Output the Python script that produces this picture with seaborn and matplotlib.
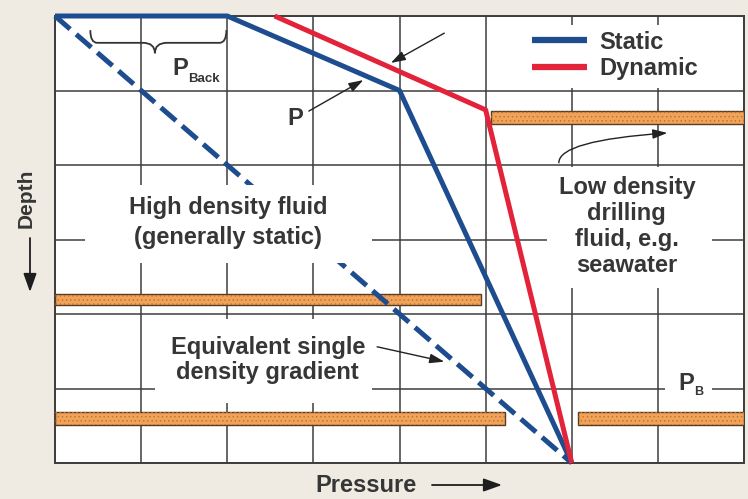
import numpy as np
import matplotlib
matplotlib.use('Agg')
import matplotlib.pyplot as plt
import seaborn as sns
from matplotlib.patches import Rectangle, PathPatch
from matplotlib.path import Path

# ---------------- data ----------------
static_pressure = [0.0, 2.0, 4.0, 6.0]
static_depth = [0.0, 0.0, 1.0, 6.0]
dynamic_pressure = [2.55, 5.0, 6.0]
dynamic_depth = [0.0, 1.26, 6.0]
equiv_pressure = [0.0, 6.0]
equiv_depth = [0.0, 6.0]

# formation layers (orange bands)
layer_depth = [3.80, 5.40, 5.40, 1.36]
layer_thick = [0.15, 0.18, 0.18, 0.18]
layer_start = [0.0, 0.0, 6.07, 5.06]
layer_end = [4.95, 5.23, 8.0, 8.0]

series_labels = ['Static', 'Dynamic']

# ---------------- style ----------------
BLUE = '#1d4c8f'
RED = '#e2233a'
GRID = '#3d3d3d'
TXT = '#363636'
BG = '#efebe2'
ORANGE = '#f2a35a'

sns.set_theme(style='white')
plt.rcParams['font.family'] = ['Liberation Sans', 'DejaVu Sans']
plt.rcParams['hatch.linewidth'] = 0.6

fig = plt.figure(figsize=(7.48, 4.99), dpi=100, facecolor=BG)
ax = fig.add_axes([55 / 748, 1 - 463 / 499, 689 / 748, 447 / 499])
ax.set_facecolor('white')

ax.set_xlim(0, 8)
ax.set_ylim(6, 0)
ax.set_xticks(range(9))
ax.set_yticks(range(7))
ax.tick_params(length=0, labelbottom=False, labelleft=False)
ax.set_axisbelow(True)
ax.grid(True, color=GRID, linewidth=1.1)
for s in ax.spines.values():
    s.set_color(GRID)
    s.set_linewidth(1.4)

# formation layers
widths = np.subtract(layer_end, layer_start)
ax.barh(y=layer_depth, width=widths, left=layer_start, height=layer_thick,
        color=ORANGE, edgecolor='#5a3c22', linewidth=1.0, zorder=3)
ax.barh(y=layer_depth, width=widths, left=layer_start, height=layer_thick,
        facecolor='none', edgecolor='#c0762f', hatch='....', linewidth=0, zorder=3.1)

# lines
sns.lineplot(x=equiv_pressure, y=equiv_depth, sort=False, estimator=None,
             color=BLUE, linewidth=3.6, linestyle=(0, (4, 1.6)), ax=ax,
             label='_nolegend_')
sns.lineplot(x=static_pressure, y=static_depth, sort=False, estimator=None,
             color=BLUE, linewidth=3.6, ax=ax, label=series_labels[0])
sns.lineplot(x=dynamic_pressure, y=dynamic_depth, sort=False, estimator=None,
             color=RED, linewidth=3.6, ax=ax, label=series_labels[1])
for ln in ax.lines:
    ln.set_clip_on(False)
    ln.set_zorder(4)
    ln.set_solid_capstyle('butt')
line_static, line_dynamic = ax.lines[1], ax.lines[2]

# white label backgrounds that interrupt the grid
masks = [
    (5.23, 0.12, 2.75, 0.85),   # legend
    (0.35, 2.27, 3.33, 1.05),   # high density text
    (5.71, 2.03, 1.92, 1.62),   # low density text
    (1.16, 4.07, 2.52, 1.12),   # equivalent text
    (7.08, 4.82, 0.55, 0.33),   # P_B
]
for (x0, y0, w, h) in masks:
    ax.add_patch(Rectangle((x0, y0), w, h, facecolor='white', edgecolor='none',
                           zorder=4.5))

# legend
leg = ax.legend(handles=[line_static, line_dynamic], labels=series_labels,
                loc='upper left', bbox_to_anchor=(0.692, 0.967), frameon=False,
                borderaxespad=0, borderpad=0, handlelength=2.35,
                handletextpad=0.5, labelspacing=0.13,
                prop=dict(family='Liberation Sans', weight='bold', size=17))
for t in leg.get_texts():
    t.set_color(TXT)
for h in leg.legend_handles:
    h.set_linewidth(4.5)
leg.set_zorder(6)

tk = dict(family='Liberation Sans', weight='bold', color=TXT, zorder=5)

ax.text(2.01, 2.77, 'High density fluid\n(generally static)', ha='center',
        va='center', fontsize=17, linespacing=1.38, **tk)
ax.text(6.64, 2.83, 'Low density\ndrilling\nfluid, e.g.\nseawater', ha='center',
        va='center', fontsize=17, linespacing=1.17, **tk)
ax.text(2.47, 4.62, 'Equivalent single\ndensity gradient', ha='center',
        va='center', fontsize=17, linespacing=1.09, **tk)

# P_Back
ax.text(1.45, 0.70, 'P', ha='center', va='center', fontsize=17, **tk)
ax.text(1.545, 0.84, 'Back', ha='left', va='center', fontsize=9.5, **tk)
# P_B
ax.text(7.33, 4.93, 'P', ha='center', va='center', fontsize=17, **tk)
ax.text(7.42, 5.05, 'B', ha='left', va='center', fontsize=9, **tk)

# brace under P_Back
bx0, bx1, bxm = 0.41, 2.01, 1.16
by_top, by_mid, by_tip = 0.19, 0.36, 0.50
verts = [(bx0, by_top), (bx0, by_mid), (bx0 + 0.08, by_mid),
         (bxm - 0.14, by_mid), (bxm, by_mid), (bxm, by_tip),
         (bxm, by_mid), (bxm + 0.14, by_mid),
         (bx1 - 0.10, by_mid), (bx1 - 0.02, by_mid), (bx1 - 0.02, by_top)]
codes = [Path.MOVETO, Path.CURVE3, Path.CURVE3,
         Path.LINETO, Path.CURVE3, Path.CURVE3,
         Path.CURVE3, Path.CURVE3,
         Path.LINETO, Path.CURVE3, Path.CURVE3]
ax.add_patch(PathPatch(Path(verts, codes), facecolor='none', edgecolor='#333333',
                       linewidth=1.3, zorder=5))

arrow_kw = dict(arrowstyle='-|>,head_length=0.55,head_width=0.18',
                color='#222222', lw=1.0, mutation_scale=16)

# "P" pointer
ax.annotate('P', xy=(3.58, 0.86), xytext=(2.79, 1.38), ha='center', va='center',
            fontsize=17, arrowprops=dict(**arrow_kw, shrinkA=2, shrinkB=0), **tk)
# pointer to dynamic line
ax.annotate('', xy=(3.90, 0.63), xytext=(4.52, 0.23),
            arrowprops=dict(**arrow_kw, shrinkA=0, shrinkB=0), zorder=5)
# curved pointer to upper layer
ax.annotate('', xy=(7.11, 1.57), xytext=(5.85, 1.97),
            arrowprops=dict(**arrow_kw, shrinkA=0, shrinkB=0,
                            connectionstyle='angle3,angleA=90,angleB=4'),
            zorder=5)
# pointer to equivalent gradient
ax.annotate('', xy=(4.52, 4.64), xytext=(3.74, 4.44),
            arrowprops=dict(**arrow_kw, shrinkA=0, shrinkB=0), zorder=5)

# axis labels with arrows
fig.text(26 / 748, 1 - 198 / 499, 'Depth', rotation=90, ha='center', va='center',
         fontsize=15, family=['Liberation Sans Narrow', 'Liberation Sans'],
         weight='bold', color=TXT)
fig.text(366 / 748, 1 - 485 / 499, 'Pressure', ha='center', va='center',
         fontsize=17, family='Liberation Sans', weight='bold', color=TXT)
big_arrow = dict(arrowstyle='-|>,head_length=0.7,head_width=0.25',
                 color='#1e1e1e', lw=1.3, mutation_scale=16, shrinkA=0, shrinkB=0)
ax.annotate('', xy=(30 / 748, 1 - 292 / 499), xytext=(30 / 748, 1 - 238 / 499),
            xycoords='figure fraction', textcoords='figure fraction',
            arrowprops=big_arrow, annotation_clip=False)
ax.annotate('', xy=(502 / 748, 1 - 485 / 499), xytext=(432 / 748, 1 - 485 / 499),
            xycoords='figure fraction', textcoords='figure fraction',
            arrowprops=big_arrow, annotation_clip=False)

fig.savefig('out.png', dpi=100, facecolor=BG)
